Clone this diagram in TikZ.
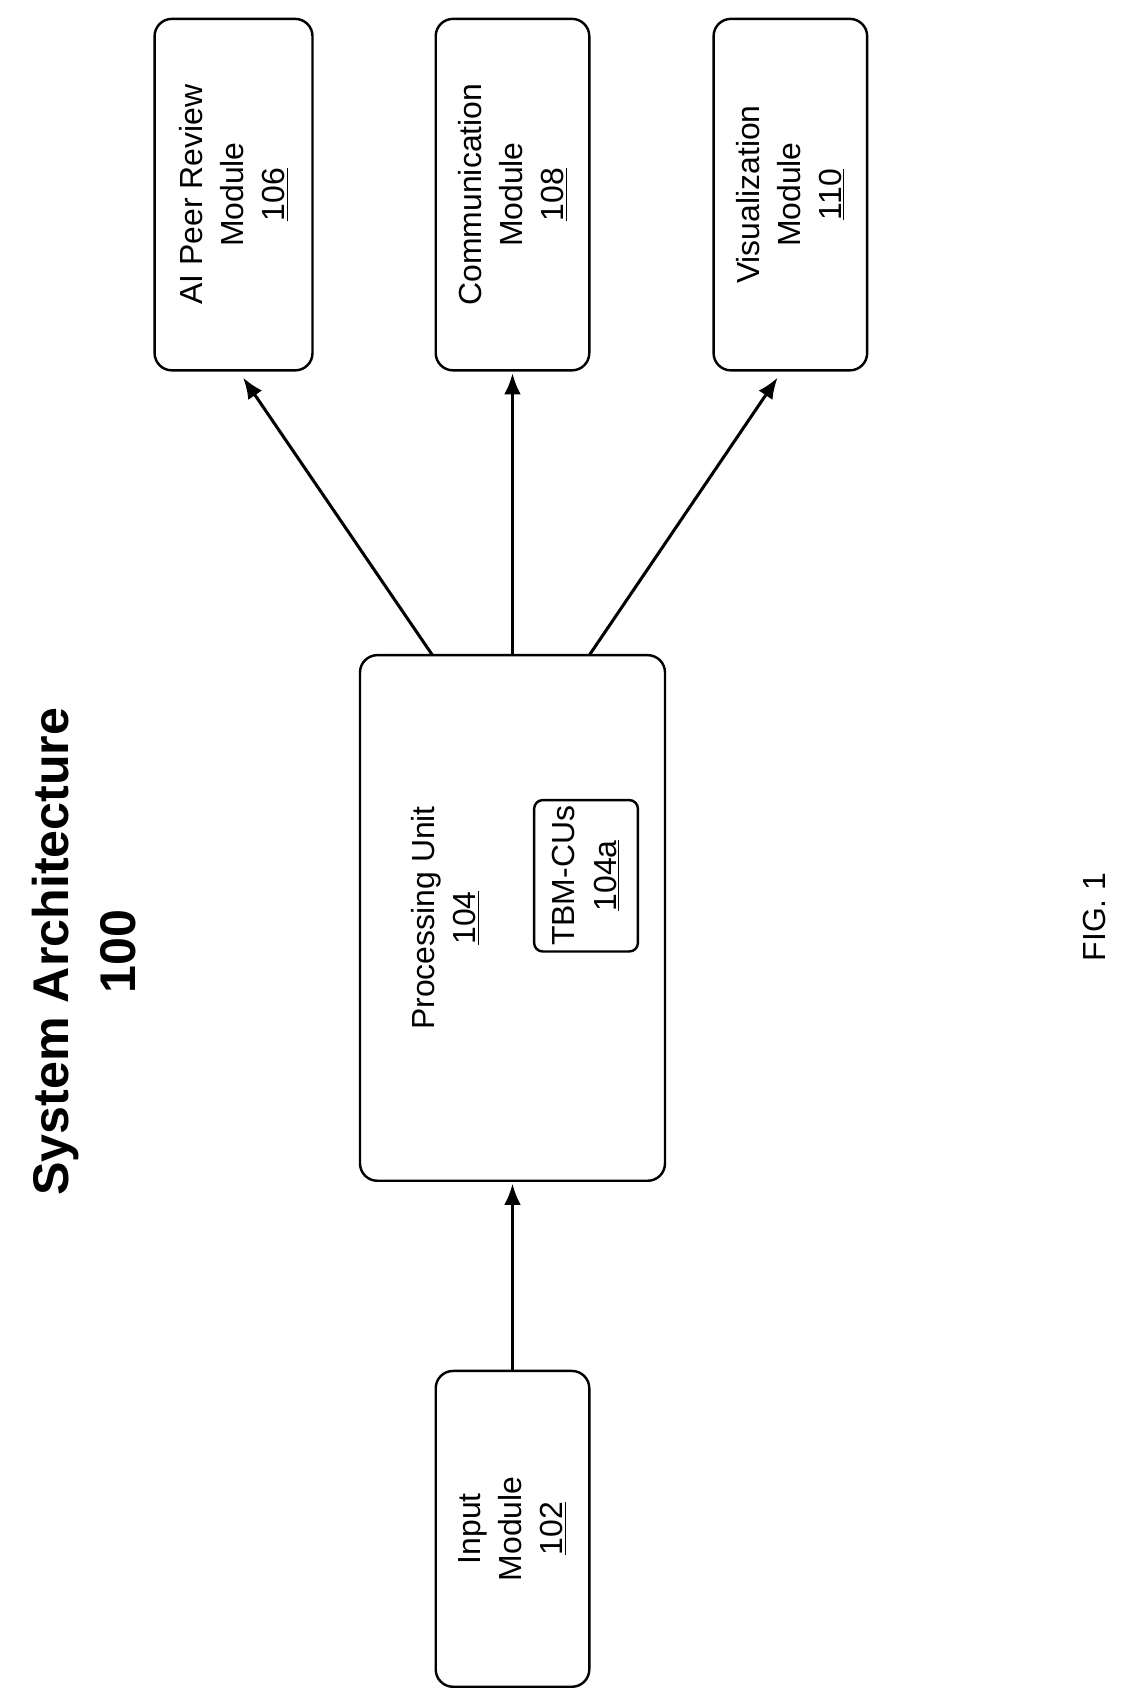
\documentclass[tikz,border=0pt]{standalone}
\usepackage{fontspec}
\setmainfont{Liberation Sans}
\usetikzlibrary{arrows.meta}
\begin{document}
\begin{tikzpicture}[x=0.025cm,y=-0.025cm,
  box/.style={draw,line width=1.6pt,rounded corners=0.4cm,rotate=90,align=center,inner sep=0pt,font=\fontsize{21}{27}\selectfont},
  arr/.style={-{Latex[length=14pt,width=11pt]},line width=2pt,shorten >=1pt}]
\useasboundingbox (0,0) rectangle (1050,1576);
\node[box,minimum width=8.125cm,minimum height=3.65cm] (ai) at (216,180) {AI Peer Review\\Module\\\underline{106}};
\node[box,minimum width=8.125cm,minimum height=3.55cm] (com) at (474,180) {Communication\\Module\\\underline{108}};
\node[box,minimum width=8.125cm,minimum height=3.55cm] (vis) at (731,180) {Visualization\\Module\\\underline{110}};
\node[box,minimum width=12.15cm,minimum height=7.05cm] (pu) at (474,849) {};
\node[rotate=90,align=center,font=\fontsize{21}{27}\selectfont] (pt) at (412,849) {Processing Unit\\\underline{104}};
\node[box,rounded corners=0.2cm,minimum width=3.5cm,minimum height=2.4cm] (tbm) at (542,810) {TBM-CUs\\\underline{104a}};
\node[box,minimum width=7.3cm,minimum height=3.55cm] (in) at (474,1414) {Input\\Module\\\underline{102}};
\node[rotate=90,align=center,font=\fontsize{33}{44}\selectfont\bfseries] (title) at (78,880) {System Architecture\\100};
\node[rotate=90,font=\fontsize{21}{27}\selectfont] (fig) at (1012,848) {FIG. 1};
\coordinate (p1) at (400,606);
\coordinate (p3) at (545,606);
\draw[arr] (in) -- (pu);
\draw[arr] (p1) -- (224,348) coordinate (a1);
\draw[arr] (pu) -- (com);
\draw[arr] (p3) -- (720,348) coordinate (a3);
\end{tikzpicture}
\end{document}
